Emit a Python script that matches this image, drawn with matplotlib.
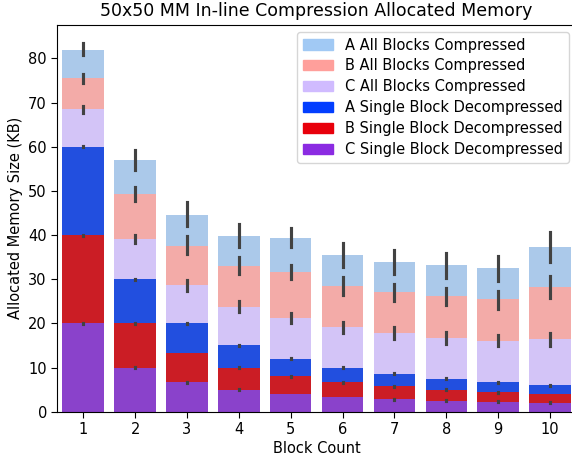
import matplotlib
matplotlib.use("Agg")
import matplotlib.pyplot as plt
import matplotlib.patches as mpatches
import seaborn as sns

blocks = ["1", "2", "3", "4", "5", "6", "7", "8", "9", "10"]

# cumulative tops of each layer (KB)
a_all = [82.0, 56.9, 44.5, 39.8, 39.4, 35.4, 33.9, 33.2, 32.5, 37.3]
b_all = [75.5, 49.3, 37.6, 33.0, 31.7, 28.5, 27.2, 26.2, 25.5, 28.2]
c_all = [68.5, 39.1, 28.7, 23.7, 21.3, 19.2, 17.8, 16.7, 16.0, 16.4]
a_single = [60.0, 30.0, 20.0, 15.0, 12.0, 10.0, 8.57, 7.5, 6.67, 6.0]
b_single = [40.0, 20.0, 13.3, 10.0, 8.0, 6.67, 5.71, 5.0, 4.44, 4.0]
c_single = [20.0, 10.0, 6.67, 5.0, 4.0, 3.33, 2.86, 2.5, 2.22, 2.0]

# confidence interval ends
a_all_lo = [80.7, 54.8, 42.1, 37.2, 37.2, 32.8, 31.2, 30.3, 29.7, 33.9]
a_all_hi = [83.6, 59.2, 47.4, 42.5, 41.6, 38.2, 36.6, 35.9, 35.2, 40.6]
b_all_lo = [74.4, 47.7, 35.8, 31.2, 30.1, 26.5, 25.1, 24.1, 23.3, 25.8]
b_all_hi = [76.4, 50.9, 39.9, 35.1, 33.3, 30.5, 29.0, 28.1, 27.4, 30.7]
c_all_lo = [67.6, 38.1, 27.4, 22.5, 20.2, 17.8, 16.5, 15.3, 14.8, 14.9]
c_all_hi = [69.2, 40.0, 29.8, 25.0, 22.3, 20.4, 19.1, 18.0, 17.4, 17.9]

labels = ["A All Blocks Compressed", "B All Blocks Compressed", "C All Blocks Compressed",
          "A Single Block Decompressed", "B Single Block Decompressed", "C Single Block Decompressed"]

pastel = sns.color_palette("pastel")
bright = sns.color_palette("bright")
colors = [pastel[0], pastel[3], pastel[4], bright[0], bright[3], bright[4]]

plt.rcParams["font.size"] = 10.5
plt.rcParams["xtick.major.size"] = 4
plt.rcParams["ytick.major.size"] = 4

fig = plt.figure(figsize=(5.72, 4.59), dpi=100)
ax = fig.add_axes([57.3 / 572, (459 - 411.7) / 459, (576 - 57.3) / 572, (411.7 - 24.5) / 459])

x = list(range(len(blocks)))
layers = [
    (a_all, a_all_lo, a_all_hi),
    (b_all, b_all_lo, b_all_hi),
    (c_all, c_all_lo, c_all_hi),
    (a_single, None, None),
    (b_single, None, None),
    (c_single, None, None),
]
errc = ".26"
for (vals, lo, hi), col in zip(layers, colors):
    ax.bar(x, vals, width=0.8, color=sns.desaturate(col, 0.75))
    for i in x:
        if lo is None:
            # zero-width interval, seaborn still draws a small square
            ax.plot([i, i], [vals[i] - 0.1, vals[i] + 0.1], color=errc, lw=2.25)
        else:
            ax.plot([i, i], [lo[i], hi[i]], color=errc, lw=2.25)

ax.set_xlim(-0.5, len(blocks) - 0.5)
ax.set_ylim(0, 87.7)
ax.set_xticks(x)
ax.set_xticklabels(blocks)
ax.set_xlabel("Block Count", labelpad=3)
ax.set_ylabel("Allocated Memory Size (KB)")
ax.set_title("50x50 MM In-line Compression Allocated Memory", fontsize=12.5)

handles = [mpatches.Patch(color=c, label=l) for c, l in zip(colors, labels)]
ax.legend(handles=handles, loc="upper right", handlelength=2.1, labelspacing=0.4)

fig.savefig("out.png", dpi=100)
